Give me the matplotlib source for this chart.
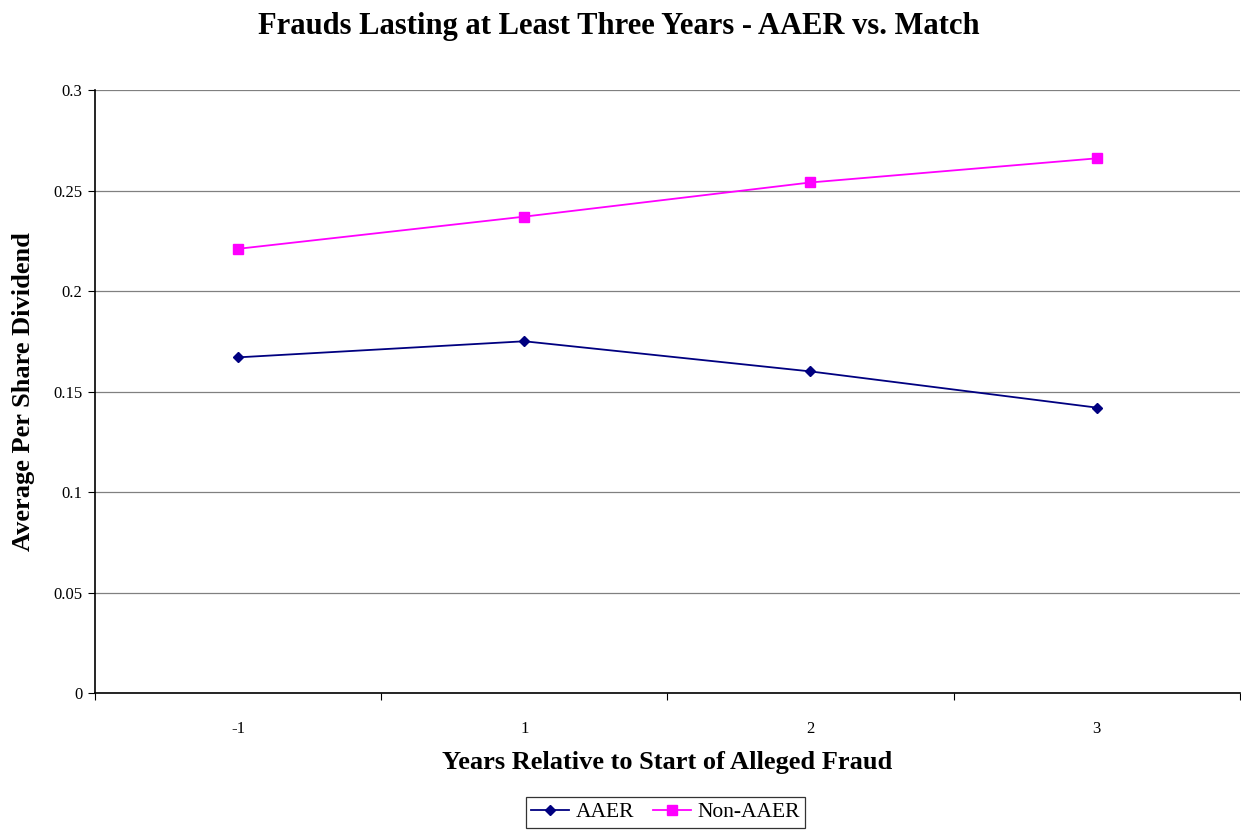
import matplotlib

matplotlib.use("Agg")
import matplotlib.pyplot as plt

categories = ["-1", "1", "2", "3"]
aaer = [0.167, 0.175, 0.160, 0.142]
non_aaer = [0.221, 0.237, 0.254, 0.266]
y_ticks = [0, 0.05, 0.1, 0.15, 0.2, 0.25, 0.3]
y_labels = ["0", "0.05", "0.1", "0.15", "0.2", "0.25", "0.3"]

plt.rcParams["font.family"] = ["Liberation Serif", "DejaVu Serif"]

fig = plt.figure(figsize=(12.41, 8.31), dpi=100)
ax = fig.add_axes([0.0766, 0.166, 0.9224, 0.7257])

x = list(range(len(categories)))
ax.plot(x, aaer, color="#000080", marker="D", markersize=5.5, linewidth=1.3, label="AAER")
ax.plot(x, non_aaer, color="#FF00FF", marker="s", markersize=7, linewidth=1.3, label="Non-AAER")

ax.set_xlim(-0.5, len(categories) - 0.5)
ax.set_ylim(0, 0.3)
ax.set_yticks(y_ticks)
ax.set_yticklabels(y_labels, fontsize=12)
ax.set_xticks(x)
ax.set_xticklabels(categories, fontsize=12)
ax.set_xticks([i - 0.5 for i in range(len(categories) + 1)], minor=True)
ax.tick_params(axis="x", which="major", length=0, pad=20)
ax.tick_params(axis="x", which="minor", length=5, width=0.8)
ax.tick_params(axis="y", length=5, width=0.8, pad=4)
ax.yaxis.grid(True, color="#808080", linewidth=0.9)
ax.set_axisbelow(True)
for side in ["top", "right"]:
    ax.spines[side].set_visible(False)
for side in ["left", "bottom"]:
    ax.spines[side].set_linewidth(1.2)

ax.set_xlabel("Years Relative to Start of Alleged Fraud", fontsize=19, fontweight="bold", labelpad=10)
ax.set_ylabel("Average Per Share Dividend", fontsize=19, fontweight="bold", labelpad=13)
fig.suptitle("Frauds Lasting at Least Three Years - AAER vs. Match", fontsize=22, fontweight="bold", x=0.499, y=0.985)

leg = fig.legend(loc="upper center", bbox_to_anchor=(0.5363, 0.041), ncol=2, fontsize=15.5,
                 frameon=True, fancybox=False, handlelength=1.75, handletextpad=0.3,
                 columnspacing=0.9, borderpad=0.25, borderaxespad=0)
leg.get_frame().set_edgecolor("black")
leg.get_frame().set_linewidth(0.9)

fig.savefig("out.png", dpi=100)
